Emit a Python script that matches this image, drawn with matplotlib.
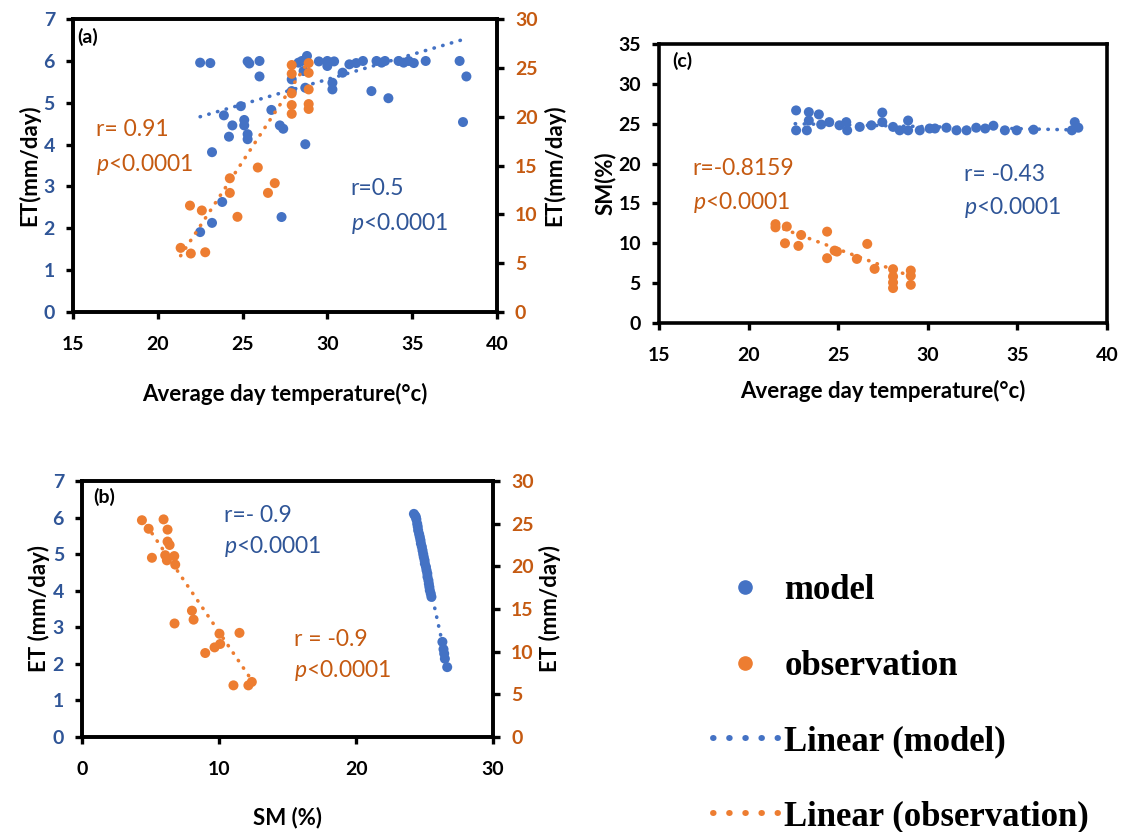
import numpy as np
import matplotlib
matplotlib.use("Agg")
import matplotlib.pyplot as plt
from matplotlib.lines import Line2D

plt.rcParams["font.family"] = ["Lato", "DejaVu Sans"]
plt.rcParams["mathtext.fontset"] = "custom"
plt.rcParams["mathtext.rm"] = "Lato"
plt.rcParams["mathtext.it"] = "Lato:italic"

BLUE = "#4472C4"
ORANGE = "#ED7D31"
BLUE_TXT = "#2F5597"
ORANGE_TXT = "#C55A11"

# (a) ET vs average day temperature
a_temp_model = [22.5, 23.1, 25.3, 25.4, 26.0, 26.0, 24.9, 23.9, 24.4, 25.1, 25.1, 24.2,
                25.3, 25.3, 23.2, 26.7, 27.2, 27.4, 28.7, 23.8, 23.2, 22.5, 27.3, 27.9,
                27.9, 28.3, 28.5, 28.8, 28.6, 28.7, 29.5, 30.0, 30.0, 30.4, 30.3, 30.3,
                30.9, 31.3, 31.7, 32.1, 32.6, 33.6, 32.9, 33.2, 33.4, 34.2, 34.5, 34.8,
                35.1, 35.8, 37.8, 38.2, 38.0]
a_et_model = [5.96, 5.95, 5.99, 5.94, 6.0, 5.63, 4.92, 4.70, 4.46, 4.59, 4.46, 4.19,
              4.25, 4.13, 3.82, 4.83, 4.46, 4.38, 4.01, 2.63, 2.13, 1.91, 2.27, 5.56,
              5.28, 5.96, 6.0, 6.12, 5.76, 5.36, 5.99, 6.0, 5.88, 5.99, 5.48, 5.32,
              5.72, 5.92, 5.95, 6.0, 5.28, 5.11, 6.0, 5.96, 6.0, 6.0, 5.96, 6.0,
              5.95, 6.0, 6.0, 5.63, 4.54]
a_temp_obs = [27.9, 27.9, 27.9, 27.9, 27.9, 28.9, 28.9, 28.9, 28.9, 28.9, 25.9, 24.25,
              24.25, 26.9, 26.5, 21.9, 22.6, 24.7, 21.35, 21.95, 22.8]
a_et_obs = [25.3, 24.4, 22.4, 21.2, 20.3, 25.5, 24.5, 22.8, 21.3, 20.8, 14.8, 13.7,
            12.2, 13.2, 12.2, 10.9, 10.4, 9.75, 6.57, 5.99, 6.12]
a_fit_model = (0.119, 1.99, 22.5, 38.2)    # slope, intercept, x from, x to
a_fit_obs = (2.64, -50.6, 21.35, 28.9)

# (b) ET vs soil moisture
b_sm_model = [24.22, 24.3, 24.36, 24.4, 24.46, 24.5, 24.53, 24.6, 24.65, 24.7, 24.73,
              24.8, 24.85, 24.9, 24.94, 25.0, 25.02, 25.1, 25.14, 25.2, 25.21, 25.28,
              25.31, 25.35, 25.38, 25.45, 25.5, 26.3, 26.38, 26.43, 26.48, 26.65]
b_et_model = [6.1, 6.05, 6.02, 5.95, 5.83, 5.75, 5.65, 5.55, 5.47, 5.38, 5.29,
              5.2, 5.1, 5.0, 4.92, 4.83, 4.74, 4.65, 4.56, 4.47, 4.38, 4.28,
              4.19, 4.1, 4.01, 3.92, 3.83, 2.6, 2.4, 2.28, 2.14, 1.91]
b_sm_obs = [4.37, 4.86, 5.95, 6.24, 6.24, 6.39, 6.07, 6.19, 6.73, 6.8, 5.1, 8.02,
            8.14, 6.75, 10.03, 11.49, 10.08, 9.67, 8.99, 11.05, 12.14, 12.39]
b_et_obs = [25.4, 24.4, 25.5, 24.3, 22.9, 22.5, 21.3, 20.7, 21.2, 20.2, 21.0, 14.8,
            13.75, 13.3, 12.1, 12.2, 10.9, 10.5, 9.84, 6.05, 6.05, 6.45]
b_fit_model = (-1.72, 47.8, 24.2, 26.65)
b_fit_obs = (-2.364, 35.93, 4.37, 12.39)

# (c) SM vs average day temperature
c_temp_model = [22.65, 22.65, 23.25, 23.36, 23.36, 23.92, 24.05, 24.5, 25.07, 25.45,
                25.5, 26.2, 26.85, 27.46, 27.46, 28.06, 28.43, 28.9, 28.9, 29.55,
                30.1, 30.4, 31.04, 31.6, 32.16, 32.7, 33.2, 33.66, 34.3, 34.96,
                35.9, 38.04, 38.2, 38.4]
c_sm_model = [26.67, 24.17, 24.17, 26.46, 25.4, 26.17, 24.9, 25.2, 24.8, 25.2,
              24.17, 24.6, 24.8, 26.4, 25.2, 24.6, 24.17, 25.4, 24.17, 24.17,
              24.4, 24.4, 24.5, 24.17, 24.17, 24.5, 24.4, 24.75, 24.17, 24.17,
              24.25, 24.17, 25.2, 24.5]
c_temp_obs = [21.5, 21.5, 22.13, 22.03, 22.78, 22.93, 24.38, 24.38, 24.8, 24.93,
              26.04, 26.62, 27.03, 28.06, 28.06, 28.06, 28.06, 29.05, 29.05, 29.05]
c_sm_obs = [12.4, 12.0, 12.1, 10.0, 9.67, 11.04, 11.46, 8.13, 9.08, 8.96,
            8.04, 9.92, 6.79, 6.75, 5.83, 5.08, 4.38, 6.58, 5.92, 4.79]
c_fit_model = (-0.05, 26.13, 22.6, 38.4)
c_fit_obs = (-0.835, 30.12, 21.5, 29.09)

fig = plt.figure(figsize=(11.24, 8.32), dpi=100)

DOT = dict(s=52, edgecolors="none", zorder=3)
FIT = dict(lw=2.6, linestyle=(0, (0.1, 2.4)), dash_capstyle="round", zorder=4)


def style(ax):
    for sp in ax.spines.values():
        sp.set_linewidth(2.6)
        sp.set_color("black")
    ax.tick_params(direction="out", length=5, width=2.4, labelsize=14)
    ax.tick_params(axis="x", pad=12)
    ax.tick_params(axis="y", pad=8)
    for t in ax.get_xticklabels() + ax.get_yticklabels():
        t.set_fontweight("bold")


def fitline(ax, fit, color):
    k, b, x0, x1 = fit
    xs = np.array([x0, x1])
    ax.plot(xs, k * xs + b, color=color, **FIT)


def ptext(ax, x, y, r, color):
    ax.text(x, y, r, color=color, fontsize=16.5, transform=ax.transAxes)
    ax.text(x, y - 0.12, r"$p$<0.0001", color=color, fontsize=16.5, transform=ax.transAxes)


def tag(ax, x, y, s):
    ax.text(x, y, s, transform=ax.transAxes, fontsize=14, fontweight="bold", va="center")


# ---- panel (a) ----
ax = fig.add_axes([0.0649, 0.625, 0.3772, 0.352])
ax2 = ax.twinx()
ax.scatter(a_temp_model, a_et_model, color=BLUE, **DOT)
fitline(ax, a_fit_model, BLUE)
ax2.scatter(a_temp_obs, a_et_obs, color=ORANGE, **DOT)
fitline(ax2, a_fit_obs, ORANGE)
ax.set_xlim(15, 40)
ax.set_ylim(0, 7)
ax2.set_ylim(0, 30)
ax.set_xticks(range(15, 41, 5))
ax.set_yticks(range(0, 8))
ax2.set_yticks(range(0, 31, 5))
style(ax)
style(ax2)
ax.tick_params(axis="y", labelcolor=BLUE_TXT)
ax2.tick_params(axis="y", labelcolor=ORANGE_TXT)
ax.set_xlabel("Average day temperature(°c)", fontsize=16, fontweight="bold", labelpad=22)
ax.set_ylabel("ET(mm/day)", fontsize=16, fontweight="bold", labelpad=2)
ax2.set_ylabel("ET(mm/day)", fontsize=16, fontweight="bold", labelpad=4)
tag(ax, 0.01, 0.939, "(a)")
ptext(ax2, 0.055, 0.60, "r= 0.91", ORANGE_TXT)
ptext(ax2, 0.655, 0.40, "r=0.5", BLUE_TXT)

# ---- panel (c) ----
ax = fig.add_axes([0.5863, 0.6118, 0.3986, 0.3353])
ax.scatter(c_temp_model, c_sm_model, color=BLUE, **DOT)
fitline(ax, c_fit_model, BLUE)
ax.scatter(c_temp_obs, c_sm_obs, color=ORANGE, **DOT)
fitline(ax, c_fit_obs, ORANGE)
ax.set_xlim(15, 40)
ax.set_ylim(0, 35)
ax.set_xticks(range(15, 41, 5))
ax.set_yticks(range(0, 36, 5))
style(ax)
ax.set_xlabel("Average day temperature(°c)", fontsize=16, fontweight="bold", labelpad=12)
ax.set_ylabel("SM(%)", fontsize=16, fontweight="bold", labelpad=2)
tag(ax, 0.029, 0.939, "(c)")
ptext(ax, 0.075, 0.53, "r=-0.8159", ORANGE_TXT)
ptext(ax, 0.68, 0.51, "r= -0.43", BLUE_TXT)

# ---- panel (b) ----
ax = fig.add_axes([0.073, 0.1142, 0.3657, 0.3077])
ax2 = ax.twinx()
ax.scatter(b_sm_model, b_et_model, color=BLUE, **DOT)
fitline(ax, b_fit_model, BLUE)
ax2.scatter(b_sm_obs, b_et_obs, color=ORANGE, **DOT)
fitline(ax2, b_fit_obs, ORANGE)
ax.set_xlim(0, 30)
ax.set_ylim(0, 7)
ax2.set_ylim(0, 30)
ax.set_xticks(range(0, 31, 10))
ax.set_yticks(range(0, 8))
ax2.set_yticks(range(0, 31, 5))
style(ax)
style(ax2)
ax.tick_params(axis="y", labelcolor=BLUE_TXT)
ax2.tick_params(axis="y", labelcolor=ORANGE_TXT)
ax.set_xlabel("SM (%)", fontsize=16, fontweight="bold", labelpad=21)
ax.set_ylabel("ET (mm/day)", fontsize=16, fontweight="bold", labelpad=2)
ax2.set_ylabel("ET (mm/day)", fontsize=16, fontweight="bold", labelpad=4)
tag(ax, 0.027, 0.9375, "(b)")
ptext(ax, 0.345, 0.84, "r=- 0.9", BLUE_TXT)
ptext(ax, 0.515, 0.355, "r = -0.9", ORANGE_TXT)

# ---- shared legend ----
LEG_FIT = dict(lw=4.3, linestyle=(0, (0.1, 2.6)), dash_capstyle="round")
handles = [
    Line2D([], [], linestyle="none", marker="o", markersize=9.5, color=BLUE),
    Line2D([], [], linestyle="none", marker="o", markersize=9.5, color=ORANGE),
    Line2D([], [], color=BLUE, **LEG_FIT),
    Line2D([], [], color=ORANGE, **LEG_FIT),
]
labels = ["model", "observation", "Linear (model)", "Linear (observation)"]
fig.legend(handles, labels, loc="upper left", bbox_to_anchor=(0.634, 0.3095),
           frameon=False, borderpad=0, borderaxespad=0, handlelength=1.87,
           handletextpad=0.2, labelspacing=1.22,
           prop=dict(family="Liberation Serif", weight="bold", size=25))

fig.savefig("out.png", dpi=100)
